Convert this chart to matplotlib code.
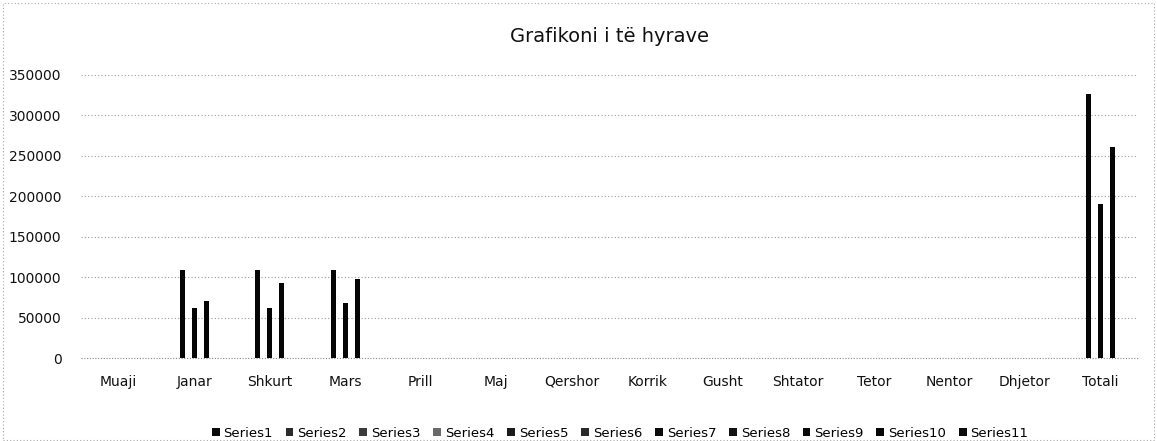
import numpy as np
import matplotlib
matplotlib.use("Agg")
import matplotlib.pyplot as plt
from matplotlib.patches import Rectangle

categories = ["Muaji", "Janar", "Shkurt", "Mars", "Prill", "Maj", "Qershor",
              "Korrik", "Gusht", "Shtator", "Tetor", "Nentor", "Dhjetor", "Totali"]
series_names = ["Series%d" % i for i in range(1, 12)]

nan = np.nan
empty = [nan] * 14
# only three series carry values (Janar, Shkurt, Mars, Totali)
series4 = [nan, 109000, 109000, 109000, nan, nan, nan, nan, nan, nan, nan, nan, nan, 327000]
series6 = [nan, 62000, 62000, 68000, nan, nan, nan, nan, nan, nan, nan, nan, nan, 190000]
series8 = [nan, 70000, 93000, 98000, nan, nan, nan, nan, nan, nan, nan, nan, nan, 261000]

series_values = [empty, empty, empty, series4, empty, series6, empty, series8,
                 empty, empty, empty]
series_colors = ["#0a0a0a", "#2a2a2a", "#3a3a3a", "#6a6a6a", "#1a1a1a", "#2a2a2a",
                 "#0a0a0a", "#111111", "#0a0a0a", "#050505", "#0a0a0a"]
bar_color = "#050505"

yticks = [0, 50000, 100000, 150000, 200000, 250000, 300000, 350000]

fig = plt.figure(figsize=(11.57, 4.41), dpi=100)
ax = fig.add_axes([0.070, 0.188, 0.9136, 0.642])

n = len(series_names)
x = np.arange(len(categories))
gap = 1.5
w = 1.0 / (n + gap)
for i, (name, vals, col) in enumerate(zip(series_names, series_values, series_colors)):
    offs = (i - (n - 1) / 2) * w
    ax.bar(x + offs, np.nan_to_num(vals), width=w * 0.8, color=bar_color, zorder=3)
    ax.bar([0], [0], width=0, color=col, label=name)

ax.set_xlim(-0.5, len(categories) - 0.5)
ax.set_ylim(0, 350000)
ax.set_yticks(yticks)
ax.set_yticklabels([str(v) for v in yticks], fontsize=10, color="#111111")
ax.set_xticks(x)
ax.set_xticklabels(categories, fontsize=10, color="#111111")
ax.tick_params(axis="both", length=0)
ax.tick_params(axis="x", pad=12)
ax.tick_params(axis="y", pad=14)
for s in ax.spines.values():
    s.set_visible(False)
ax.yaxis.grid(True, linestyle=(0, (1, 2)), color="#999999", linewidth=0.8, zorder=0)
ax.axhline(0, linestyle=(0, (1, 1.5)), color="#888888", linewidth=0.8, zorder=1,
           clip_on=False)

ax.set_title("Grafikoni i të hyrave", fontsize=14, color="#111111", pad=24)

leg = ax.legend(loc="upper center", bbox_to_anchor=(0.51, -0.2), ncol=11,
                frameon=False, fontsize=9.5, handlelength=0.6, handleheight=0.6,
                handletextpad=0.3, columnspacing=0.95)

fig.patches.append(Rectangle((0.003, 0.003), 0.994, 0.99, transform=fig.transFigure,
                             fill=False, edgecolor="#aaaaaa", linestyle=(0, (1, 2)),
                             linewidth=0.8))

fig.savefig("out.png", dpi=100)
